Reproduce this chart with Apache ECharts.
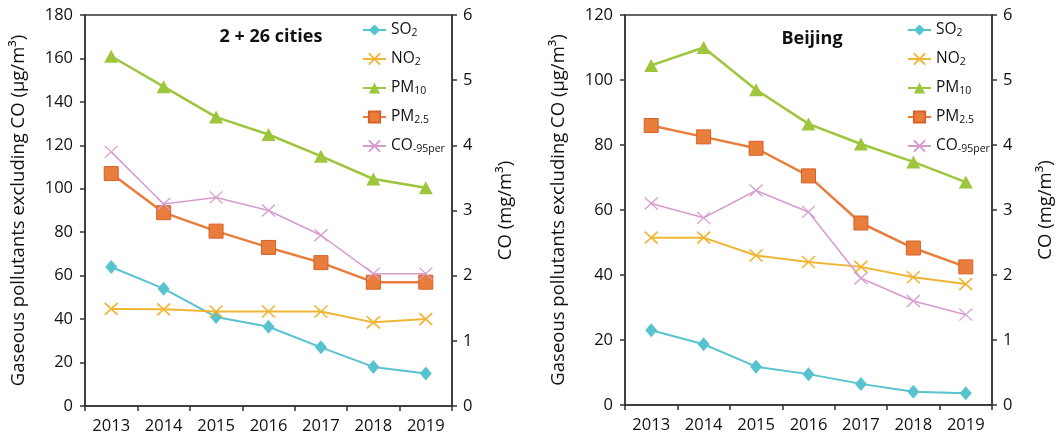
<!DOCTYPE html>
<html>
<head>
<meta charset="utf-8">
<script src="https://cdn.jsdelivr.net/npm/echarts@6/dist/echarts.min.js"></script>
<style>html,body{margin:0;padding:0;background:#fff;}#c{width:1058px;height:440px;}</style>
</head>
<body>
<div id="c"></div>
<script>
const years = ['2013','2014','2015','2016','2017','2018','2019'];
const citySO2  = [64, 54, 41, 36.5, 27, 18, 15];
const cityNO2  = [44.7, 44.5, 43.5, 43.5, 43.5, 38.5, 40];
const cityPM10 = [161, 147, 133, 125, 115, 104.5, 100.5];
const cityPM25 = [107, 89, 80.5, 73, 66, 57, 57];
const cityCO   = [3.9, 3.1, 3.2, 3.0, 2.62, 2.03, 2.03];
const bjSO2  = [23, 18.7, 11.8, 9.5, 6.5, 4.1, 3.6];
const bjNO2  = [51.5, 51.5, 46, 44, 42.5, 39.3, 37.2];
const bjPM10 = [104.5, 110, 97, 86.5, 80.3, 74.8, 68.6];
const bjPM25 = [86, 82.5, 79, 70.5, 56, 48.3, 42.5];
const bjCO   = [3.1, 2.88, 3.3, 2.97, 1.95, 1.6, 1.39];

const names = ['SO2','NO2','PM10','PM2.5','CO-95per'];
const richNames = {'SO2':'SO{s|2}','NO2':'NO{s|2}','PM10':'PM{s|10}','PM2.5':'PM{s|2.5}','CO-95per':'CO{s|-95per}'};
const colors = {'SO2':'#57c3cf','NO2':'#f0b535','PM10':'#9dc63c','PM2.5':'#e97d3c','CO-95per':'#d79bd1'};
const FONT = 'Open Sans';
const xPath = 'path://M0,0L10,10M10,0L0,10';

function mkSeries(gi, so2, no2, pm10, pm25, co) {
  const xi = gi, yl = gi*2, yr = gi*2+1;
  return [
    {name:'SO2', type:'line', xAxisIndex:xi, yAxisIndex:yl, data:so2, color:colors['SO2'],
     symbol:'diamond', symbolSize:[12,14], lineStyle:{width:2}, itemStyle:{color:colors['SO2']}},
    {name:'NO2', type:'line', xAxisIndex:xi, yAxisIndex:yl, data:no2, color:colors['NO2'],
     symbol:xPath, symbolSize:[13,12], lineStyle:{width:2},
     itemStyle:{color:colors['NO2'], borderColor:colors['NO2'], borderWidth:1.6}},
    {name:'PM10', type:'line', xAxisIndex:xi, yAxisIndex:yl, data:pm10, color:colors['PM10'],
     symbol:'triangle', symbolSize:[14,13], lineStyle:{width:2.5}, itemStyle:{color:colors['PM10']}},
    {name:'PM2.5', type:'line', xAxisIndex:xi, yAxisIndex:yl, data:pm25, color:colors['PM2.5'],
     symbol:'rect', symbolSize:14, lineStyle:{width:2.5},
     itemStyle:{color:colors['PM2.5'], borderColor:'#d8612a', borderWidth:1}},
    {name:'CO-95per', type:'line', xAxisIndex:xi, yAxisIndex:yr, data:co, color:colors['CO-95per'],
     symbol:xPath, symbolSize:[13,12], lineStyle:{width:1.5},
     itemStyle:{color:colors['CO-95per'], borderColor:colors['CO-95per'], borderWidth:1.2}}
  ];
}

const axisLine = {show:true, lineStyle:{color:'#333', width:1.5}};
const axisTick = {show:true, inside:false, length:5, lineStyle:{color:'#333', width:1.5}};
const labelStyle = {color:'#111', fontFamily:FONT, fontSize:16.5};
const nameStyle = {color:'#111', fontFamily:FONT, fontSize:18.5};

function xAxis(gi){
  return {type:'category', gridIndex:gi, data:years, boundaryGap:true,
    axisLine:axisLine, axisTick:axisTick, axisLabel:Object.assign({margin:12, interval:0}, labelStyle),
    splitLine:{show:false}};
}
function yLeft(gi, max, gap){
  return {type:'value', gridIndex:gi, min:0, max:max, interval:20, position:'left',
    name:'Gaseous pollutants excluding CO (μg/m³)', nameLocation:'middle', nameGap:gap,
    nameTextStyle:nameStyle,
    axisLine:axisLine, axisTick:axisTick, axisLabel:Object.assign({margin:12}, labelStyle), splitLine:{show:false}};
}
function yRight(gi, gap){
  return {type:'value', gridIndex:gi, min:0, max:6, interval:1, position:'right',
    name:'CO (mg/m³)', nameLocation:'middle', nameGap:gap,
    nameTextStyle:nameStyle,
    axisLine:axisLine, axisTick:axisTick, axisLabel:Object.assign({margin:11}, labelStyle), splitLine:{show:false}};
}
function legend(left){
  return {orient:'vertical', left:left, top:17, itemWidth:23, itemHeight:14, itemGap:12,
    data:names, formatter:n=>richNames[n],
    textStyle:{color:'#111', fontFamily:FONT, fontSize:15.5,
      rich:{s:{fontFamily:FONT, fontSize:10.5, color:'#111', padding:[7,0,0,0]}}}};
}

const chart = echarts.init(document.getElementById('c'), null, {renderer:'canvas'});
chart.setOption({
  backgroundColor:'#fff',
  animation:false,
  title:[
    {text:'2 + 26 cities', left:266, top:23, textAlign:'center', textStyle:{fontFamily:FONT, fontSize:18, fontWeight:'bold', color:'#111'}},
    {text:'Beijing', left:807, top:25, textAlign:'center', textStyle:{fontFamily:FONT, fontSize:18, fontWeight:'bold', color:'#111'}}
  ],
  legend:[legend(357), legend(902)],
  grid:[
    {left:85, top:15, width:367, height:391, show:true, borderColor:'#333', borderWidth:1.5, backgroundColor:'transparent'},
    {left:625, top:15, width:367, height:390, show:true, borderColor:'#333', borderWidth:1.5, backgroundColor:'transparent'}
  ],
  xAxis:[xAxis(0), xAxis(1)],
  yAxis:[yLeft(0,180,57), yRight(0,44), yLeft(1,120,57), yRight(1,44)],
  series:[].concat(
    mkSeries(0, citySO2, cityNO2, cityPM10, cityPM25, cityCO),
    mkSeries(1, bjSO2, bjNO2, bjPM10, bjPM25, bjCO)
  )
});
</script>
</body>
</html>
